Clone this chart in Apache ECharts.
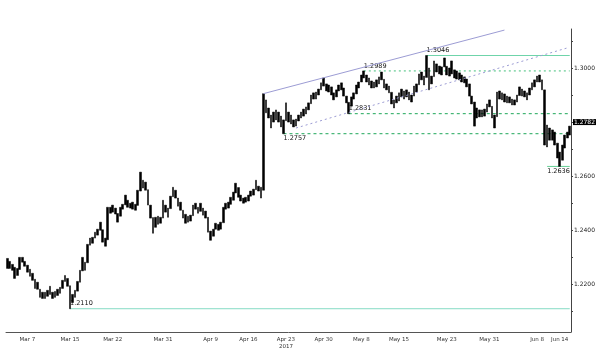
<!DOCTYPE html>
<html lang="en">
<head>
<meta charset="UTF-8">
<meta name="viewport" content="width=device-width, initial-scale=1.0">
<title>GBPUSD</title>
<style>
  html, body { margin: 0; padding: 0; background: #fff; }
  #main { width: 600px; height: 353px; }
</style>
</head>
<body>
<div id="main"></div>
<script src="https://cdn.jsdelivr.net/npm/echarts@6/dist/echarts.min.js"></script>
<script>
  // bar ranges, Mar 6 .. Jun 14 2017
  let highs = [
    1.2296, 1.2285, 1.2274, 1.2263, 1.2259, 1.2300, 1.2300, 1.2285, 1.2271, 1.2256,
    1.2241, 1.2219, 1.2208, 1.2182, 1.2171, 1.2171, 1.2178, 1.2193, 1.2171, 1.2174,
    1.2182, 1.2189, 1.2215, 1.2233, 1.2222, 1.2195, 1.2163, 1.2178, 1.2211, 1.2252,
    1.2300, 1.2282, 1.2348, 1.2371, 1.2374, 1.2393, 1.2404, 1.2430, 1.2402, 1.2371,
    1.2485, 1.2485, 1.2493, 1.2482, 1.2462, 1.2485, 1.2496, 1.2530, 1.2511, 1.2500,
    1.2504, 1.2496, 1.2548, 1.2615, 1.2585, 1.2578, 1.2550, 1.2493, 1.2447, 1.2448,
    1.2452, 1.2448, 1.2511, 1.2493, 1.2482, 1.2526, 1.2559, 1.2548, 1.2519, 1.2504,
    1.2474, 1.2459, 1.2452, 1.2456, 1.2493, 1.2500, 1.2485, 1.2500, 1.2482, 1.2471,
    1.2448, 1.2397, 1.2404, 1.2426, 1.2422, 1.2430, 1.2485, 1.2500, 1.2504, 1.2522,
    1.2541, 1.2574, 1.2558, 1.2530, 1.2519, 1.2522, 1.2530, 1.2545, 1.2552, 1.2585,
    1.2563, 1.2559, 1.2905, 1.2882, 1.2852, 1.2826, 1.2837, 1.2845, 1.2837, 1.2822,
    1.2808, 1.2871, 1.2837, 1.2826, 1.2808, 1.2811, 1.2826, 1.2837, 1.2848, 1.2856,
    1.2871, 1.2900, 1.2908, 1.2911, 1.2922, 1.2945, 1.2963, 1.2941, 1.2937, 1.2930,
    1.2908, 1.2919, 1.2937, 1.2945, 1.2926, 1.2896, 1.2873, 1.2893, 1.2908, 1.2937,
    1.2948, 1.2974, 1.2989, 1.2974, 1.2963, 1.2952, 1.2948, 1.2956, 1.2967, 1.2985,
    1.2958, 1.2941, 1.2933, 1.2910, 1.2882, 1.2896, 1.2908, 1.2922, 1.2915, 1.2919,
    1.2911, 1.2900, 1.2933, 1.2941, 1.2978, 1.2985, 1.2970, 1.3046, 1.3000, 1.2970,
    1.3026, 1.3015, 1.3007, 1.3004, 1.3037, 1.3006, 1.3000, 1.3026, 1.2993, 1.2989,
    1.2982, 1.2974, 1.2967, 1.2959, 1.2941, 1.2896, 1.2874, 1.2852, 1.2845, 1.2845,
    1.2848, 1.2867, 1.2882, 1.2858, 1.2826, 1.2911, 1.2915, 1.2908, 1.2904, 1.2896,
    1.2893, 1.2885, 1.2882, 1.2900, 1.2930, 1.2922, 1.2915, 1.2908, 1.2926, 1.2945,
    1.2956, 1.2970, 1.2974, 1.2956, 1.2919, 1.2789, 1.2778, 1.2771, 1.2763, 1.2722,
    1.2689, 1.2715, 1.2752, 1.2763, 1.2785
  ];
  let lows = [
    1.2259, 1.2259, 1.2252, 1.2222, 1.2233, 1.2255, 1.2282, 1.2267, 1.2245, 1.2230,
    1.2215, 1.2185, 1.2182, 1.2152, 1.2148, 1.2148, 1.2156, 1.2163, 1.2148, 1.2152,
    1.2159, 1.2167, 1.2185, 1.2211, 1.2193, 1.2110, 1.2133, 1.2152, 1.2175, 1.2208,
    1.2250, 1.2252, 1.2280, 1.2345, 1.2352, 1.2371, 1.2382, 1.2400, 1.2356, 1.2341,
    1.2365, 1.2463, 1.2467, 1.2460, 1.2430, 1.2452, 1.2478, 1.2494, 1.2485, 1.2482,
    1.2478, 1.2474, 1.2492, 1.2545, 1.2556, 1.2548, 1.2493, 1.2445, 1.2389, 1.2411,
    1.2422, 1.2426, 1.2445, 1.2467, 1.2448, 1.2480, 1.2524, 1.2519, 1.2489, 1.2474,
    1.2445, 1.2426, 1.2430, 1.2434, 1.2454, 1.2478, 1.2463, 1.2470, 1.2456, 1.2445,
    1.2393, 1.2363, 1.2378, 1.2404, 1.2400, 1.2404, 1.2428, 1.2478, 1.2482, 1.2496,
    1.2511, 1.2538, 1.2522, 1.2508, 1.2500, 1.2504, 1.2508, 1.2526, 1.2530, 1.2550,
    1.2545, 1.2519, 1.2548, 1.2834, 1.2815, 1.2778, 1.2800, 1.2808, 1.2800, 1.2782,
    1.2757, 1.2805, 1.2800, 1.2793, 1.2782, 1.2785, 1.2804, 1.2815, 1.2822, 1.2830,
    1.2845, 1.2868, 1.2885, 1.2885, 1.2900, 1.2919, 1.2933, 1.2915, 1.2911, 1.2900,
    1.2882, 1.2893, 1.2915, 1.2919, 1.2896, 1.2871, 1.2831, 1.2859, 1.2885, 1.2904,
    1.2926, 1.2948, 1.2963, 1.2948, 1.2937, 1.2926, 1.2926, 1.2930, 1.2941, 1.2956,
    1.2926, 1.2919, 1.2908, 1.2867, 1.2852, 1.2871, 1.2878, 1.2893, 1.2885, 1.2893,
    1.2882, 1.2874, 1.2896, 1.2911, 1.2938, 1.2956, 1.2937, 1.2965, 1.2919, 1.2941,
    1.2968, 1.2985, 1.2978, 1.2974, 1.3004, 1.2974, 1.2970, 1.2978, 1.2963, 1.2959,
    1.2956, 1.2948, 1.2945, 1.2930, 1.2896, 1.2867, 1.2785, 1.2815, 1.2819, 1.2819,
    1.2822, 1.2837, 1.2856, 1.2815, 1.2778, 1.2820, 1.2885, 1.2882, 1.2874, 1.2871,
    1.2871, 1.2863, 1.2863, 1.2874, 1.2898, 1.2896, 1.2893, 1.2882, 1.2900, 1.2919,
    1.2930, 1.2948, 1.2948, 1.2919, 1.2715, 1.2708, 1.2733, 1.2733, 1.2715, 1.2667,
    1.2636, 1.2659, 1.2704, 1.2741, 1.2752
  ];
  let lastPrice = 1.2782;

  // date labels sit on these bars
  let tickIdx = [8, 25, 42, 62, 81, 96, 111, 126, 141, 156, 175, 192, 211, 220];
  let tickText = ['Mar 7', 'Mar 15', 'Mar 22', 'Mar 31', 'Apr 9', 'Apr 16', 'Apr 23\n2017',
                  'Apr 30', 'May 8', 'May 15', 'May 23', 'May 31', 'Jun 8', 'Jun 14'];

  let yLabels = [1.22, 1.24, 1.26, 1.28, 1.30];
  let yTicks = [1.21, 1.22, 1.23, 1.24, 1.25, 1.26, 1.27, 1.28, 1.29, 1.30, 1.31];

  // support / resistance levels and the bar they start from
  let levelValues = [1.3046, 1.2989, 1.2831, 1.2757, 1.2636, 1.2110];
  let levelFrom = [167, 142, 136, 110, 215, 25];

  // channel lines [bar, price]
  let channelUpper = [[102, 1.2905], [198, 1.3140]];
  let channelLower = [[115, 1.2778], [223, 1.3074]];

  let cats = highs.map((h, i) => String(i));
  let candles = highs.map((h, i) => [lows[i], h, lows[i], h]);
  let lastBar = highs.length - 1;

  let levelStyle = [
    { color: '#6fd4aa', type: 'solid', pos: 'top' },
    { color: '#45c07c', type: [2, 3], pos: 'top' },
    { color: '#1fa75a', type: [3, 3], pos: 'top' },
    { color: '#1fa75a', type: [3, 3], pos: 'bottom' },
    { color: '#66d096', type: 'solid', pos: 'bottom' },
    { color: '#86dcc4', type: 'solid', pos: 'top' }
  ];

  // each level is its own short line series, label on its first point
  let levelSeries = levelValues.map((v, k) => ({
    type: 'line',
    silent: true,
    symbol: 'circle',
    symbolSize: 1,
    showSymbol: true,
    itemStyle: { color: 'rgba(0,0,0,0)' },
    z: 3,
    lineStyle: { color: levelStyle[k].color, type: levelStyle[k].type, width: 1 },
    data: [
      {
        value: [levelFrom[k], v],
        label: {
          show: true, position: levelStyle[k].pos, align: 'left', distance: 1,
          formatter: v.toFixed(4), color: '#111', fontSize: 6.5, fontFamily: 'DejaVu Sans'
        }
      },
      { value: [lastBar, v], label: { show: false } }
    ]
  }));

  let chart = echarts.init(document.getElementById('main'));
  chart.setOption({
    backgroundColor: '#fff',
    animation: false,
    grid: { left: 6, right: 29, top: 29, bottom: 21 },
    xAxis: {
      type: 'category',
      data: cats,
      boundaryGap: true,
      axisLine: { lineStyle: { color: '#555', width: 1 } },
      axisTick: {
        alignWithLabel: true, length: 2, lineStyle: { color: '#555' },
        interval: (i) => i % 5 === 0 || tickIdx.includes(i)
      },
      axisLabel: {
        interval: (i) => tickIdx.includes(i),
        formatter: (v) => tickText[tickIdx.indexOf(Number(v))] || '',
        fontSize: 5.5, color: '#333', margin: 4, lineHeight: 7, fontFamily: 'DejaVu Sans'
      },
      splitLine: { show: false }
    },
    yAxis: {
      type: 'value',
      position: 'right',
      min: 1.2024,
      max: 1.3144,
      splitLine: { show: false },
      axisLine: { show: true, lineStyle: { color: '#444', width: 1 } },
      axisTick: { show: true, length: 2, customValues: yTicks, lineStyle: { color: '#444' } },
      axisLabel: {
        customValues: yLabels, formatter: (v) => v.toFixed(4),
        fontSize: 6, color: '#222', margin: 3, fontFamily: 'DejaVu Sans'
      }
    },
    series: [{
      type: 'candlestick',
      data: candles,
      barWidth: 2.2,
      z: 4,
      itemStyle: { color: '#000', color0: '#000', borderColor: '#000', borderColor0: '#000', borderWidth: 0.5 },
      markLine: {
        silent: true,
        symbol: ['none', 'none'],
        animation: false,
        label: { show: false },
        data: [
          [{ coord: channelUpper[0], lineStyle: { color: '#9c9cd4', type: 'solid', width: 1 } },
           { coord: channelUpper[1] }],
          [{ coord: channelLower[0], lineStyle: { color: '#9c9cd4', type: [2, 3], width: 1 } },
           { coord: channelLower[1] }],
          {
            yAxis: lastPrice, name: lastPrice.toFixed(4),
            lineStyle: { color: 'rgba(0,0,0,0)', width: 1 },
            label: { show: true, position: 'end', formatter: '{b}', distance: 2, backgroundColor: '#000',
                     color: '#fff', fontSize: 6, fontFamily: 'DejaVu Sans', padding: [0, 1] }
          }
        ]
      }
    }].concat(levelSeries)
  });
</script>
</body>
</html>
